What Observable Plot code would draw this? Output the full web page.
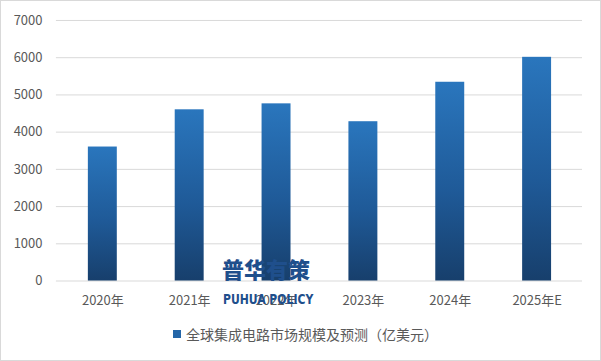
<!DOCTYPE html>
<html>
<head>
<meta charset="utf-8">
<script src="https://cdn.jsdelivr.net/npm/d3@7"></script>
<script src="https://cdn.jsdelivr.net/npm/@observablehq/plot@0.6"></script>
<style>
  html, body { margin: 0; padding: 0; background: #fff; }
  #wrap { position: relative; width: 601px; height: 361px; box-sizing: border-box; border: 1px solid #d9d9d9; background: #fff; overflow: hidden; font-family: "Noto Sans CJK SC", "Noto Sans", sans-serif; }
  #chart { position: absolute; left: -1px; top: -1px; }
  #legend { position: absolute; left: 0; top: 323px; width: 599px; display: flex; justify-content: center; align-items: center; font-size: 14px; color: #595959; }
  #legend .sw { width: 8px; height: 8px; background: #2466a8; margin-right: 5px; margin-left: 10px; }
  .wm1 { position: absolute; left: 221px; top: 252px; font-size: 22px; font-weight: 900; color: #1f4f8c; line-height: 30px; font-family: "Noto Sans CJK SC", sans-serif; }
  .wm2 { position: absolute; left: 222px; top: 290px; font-size: 14px; font-weight: bold; color: #1f4f8c; line-height: 16px; font-family: "Liberation Sans Narrow", "DejaVu Sans Condensed", "Liberation Sans", sans-serif; transform: scaleX(0.86); transform-origin: 0 0; white-space: nowrap; }
</style>
</head>
<body>
<div id="wrap">
  <div id="chart"></div>
  <div class="wm1">普华有策</div>
  <div class="wm2">PUHUA POLICY</div>
  <div id="legend"><div class="sw"></div><span>全球集成电路市场规模及预测（亿美元）</span></div>
</div>
<script>
const years = ["2020年", "2021年", "2022年", "2023年", "2024年", "2025年E"];
const values = [3600, 4600, 4760, 4280, 5340, 6010];
const yTicks = [0, 1000, 2000, 3000, 4000, 5000, 6000, 7000];

const data = years.map((y, i) => ({year: y, value: values[i]}));

const defs = () => {
  const ns = "http://www.w3.org/2000/svg";
  const d = document.createElementNS(ns, "defs");
  const g = document.createElementNS(ns, "linearGradient");
  g.setAttribute("id", "barGrad");
  g.setAttribute("x1", "0"); g.setAttribute("y1", "0");
  g.setAttribute("x2", "0"); g.setAttribute("y2", "1");
  [["0%", "#2a76bd"], ["55%", "#1f5a98"], ["100%", "#173f6c"]].forEach(([o, c]) => {
    const s = document.createElementNS(ns, "stop");
    s.setAttribute("offset", o);
    s.setAttribute("stop-color", c);
    g.appendChild(s);
  });
  d.appendChild(g);
  return d;
};

const chart = Plot.plot({
  width: 601,
  height: 318,
  marginLeft: 56,
  marginRight: 18,
  marginTop: 20,
  marginBottom: 37,
  style: { fontFamily: '"Noto Sans CJK SC", "Noto Sans", sans-serif', fontSize: "13px", color: "#595959", background: "transparent" },
  x: { domain: years, paddingInner: 0.67, paddingOuter: 0.335, label: null, tickSize: 0, tickPadding: 15 },
  y: { domain: [0, 7000], ticks: yTicks, label: null, tickSize: 0, tickPadding: 14, tickFormat: d => String(d) },
  marks: [
    defs,
    Plot.gridY(yTicks, { stroke: "#d9d9d9", strokeOpacity: 1, strokeWidth: 1 }),
    Plot.barY(data, { x: "year", y: "value", fill: "url(#barGrad)" }),
    Plot.axisX({ tickSize: 0, tickPadding: 15, fill: "#595959", fontSize: 13 }),
    Plot.axisY({ ticks: yTicks, tickSize: 0, tickPadding: 14, fill: "#595959", fontSize: 13, tickFormat: d => String(d) })
  ]
});
document.getElementById("chart").appendChild(chart);
</script>
</body>
</html>
